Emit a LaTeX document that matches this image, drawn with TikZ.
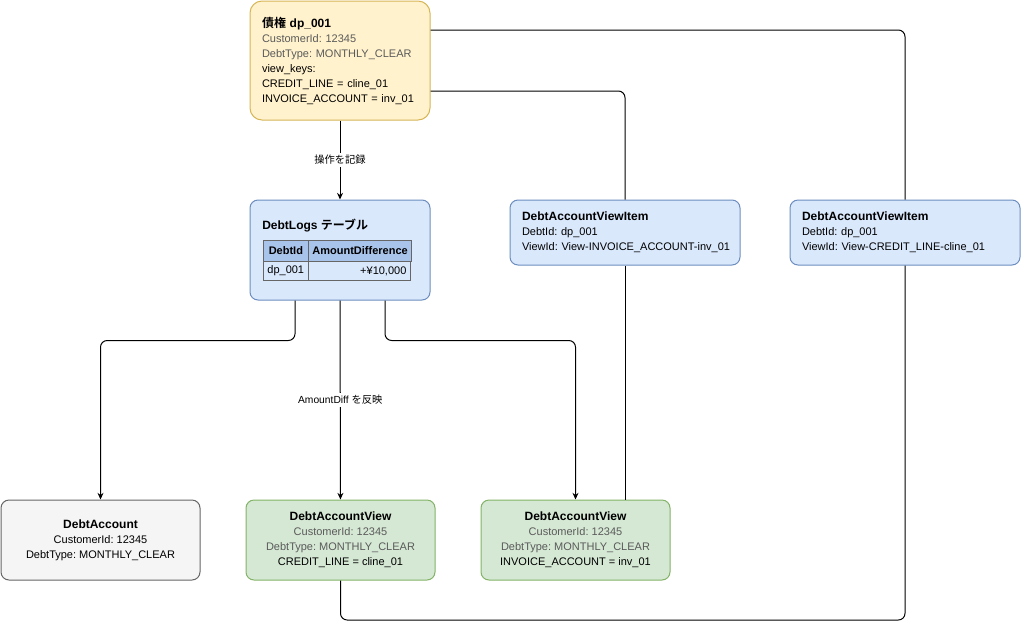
\documentclass[tikz,border=0pt]{standalone}
\usepackage{fontspec}
\setmainfont{Liberation Sans}
\newfontfamily\cjk{Noto Sans CJK JP}[BoldFont={Noto Sans CJK JP Bold}]
\usepackage{xcolor}
\usetikzlibrary{arrows.meta,calc}
\frenchspacing

\definecolor{debtfill}{HTML}{FFF2CC}
\definecolor{debtdraw}{HTML}{D6B656}
\definecolor{logfill}{HTML}{DAE8FC}
\definecolor{logdraw}{HTML}{6C8EBF}
\definecolor{headfill}{HTML}{A9C4EB}
\definecolor{viewfill}{HTML}{D5E8D4}
\definecolor{viewdraw}{HTML}{82B366}
\definecolor{accfill}{HTML}{F5F5F5}
\definecolor{accdraw}{HTML}{666666}
\definecolor{subtext}{HTML}{5A5A5A}

\newcommand{\ttl}[1]{{\bfseries\fontsize{9}{11.25}\selectfont #1}}
\newcommand{\sub}[1]{\textcolor{subtext}{#1}}

\begin{document}
\begin{tikzpicture}[x=0.75pt,y=-0.75pt,
  box/.style={draw,line width=0.75pt,rounded corners=6pt,inner sep=0pt,
    font=\fontsize{8.25}{11.25}\selectfont},
  cell/.style={draw=accdraw,line width=0.6pt,anchor=north west,inner xsep=3pt,inner ysep=0pt,
    font=\fontsize{8.25}{10}\selectfont},
  arr/.style={line width=0.75pt,-{Stealth[length=5pt,width=4.5pt]}},
  link/.style={line width=0.75pt,rounded corners=5pt},
  lbl/.style={fill=white,inner sep=1.5pt,font=\fontsize{7.7}{9}\selectfont}]
  \useasboundingbox (0,0) rectangle (1021,622);

  % source record
  \node[box,fill=debtfill,draw=debtdraw,rounded corners=9pt,minimum width=135pt,minimum height=89.25pt,
    text width=117pt,align=left] (debt) at (340,60.5)
    {\ttl{{\cjk 債権} dp\_001}\\ \sub{CustomerId: 12345}\\ \sub{DebtType: MONTHLY\_CLEAR}\\
     view\_keys:\\ CREDIT\_LINE = cline\_01\\ INVOICE\_ACCOUNT = inv\_01};

  % log table
  \node[box,fill=logfill,draw=logdraw,minimum width=135pt,minimum height=75pt] (logs) at (340,250) {};
  \node[anchor=west,inner sep=0pt] (logtitle) at (262,226) {\ttl{DebtLogs {\cjk テーブル}}};
  \node[cell,fill=headfill,minimum width=33.75pt,minimum height=15.75pt] (hid) at (263,240) {\bfseries DebtId};
  \node[cell,fill=headfill,minimum width=76.5pt,minimum height=15.75pt] (hamt) at (308,240) {\bfseries AmountDifference};
  \node[cell,fill=logfill,text width=27.75pt,align=left,minimum height=14.25pt] (rid) at (263,261) {dp\_001};
  \node[cell,fill=logfill,text width=70.5pt,align=right,minimum height=14.25pt] (ramt) at (308,261) {+¥10,000};

  % view items
  \node[box,fill=logfill,draw=logdraw,minimum width=172.5pt,minimum height=48.75pt,
    text width=154.5pt,align=left] (item1) at (625,232.5)
    {\ttl{DebtAccountViewItem}\\ DebtId: dp\_001\\ \mbox{ViewId: View-INVOICE\_ACCOUNT-inv\_01}};
  \node[box,fill=logfill,draw=logdraw,minimum width=172.5pt,minimum height=48.75pt,
    text width=154.5pt,align=left] (item2) at (905,232.5)
    {\ttl{DebtAccountViewItem}\\ DebtId: dp\_001\\ \mbox{ViewId: View-CREDIT\_LINE-cline\_01}};

  % projections
  \node[box,fill=accfill,draw=accdraw,minimum width=149.25pt,minimum height=60pt,align=center] (account) at (100.5,540)
    {\ttl{DebtAccount}\\ CustomerId: 12345\\ DebtType: MONTHLY\_CLEAR};
  \node[box,fill=viewfill,draw=viewdraw,minimum width=141.75pt,minimum height=60pt,align=center] (view1) at (340.5,540)
    {\ttl{DebtAccountView}\\ \sub{CustomerId: 12345}\\ \sub{DebtType: MONTHLY\_CLEAR}\\ CREDIT\_LINE = cline\_01};
  \node[box,fill=viewfill,draw=viewdraw,minimum width=141.75pt,minimum height=60pt,align=center] (view2) at (575.5,540)
    {\ttl{DebtAccountView}\\ \sub{CustomerId: 12345}\\ \sub{DebtType: MONTHLY\_CLEAR}\\ INVOICE\_ACCOUNT = inv\_01};

  \coordinate (bottom) at (0,620);

  \draw[arr] (debt) -- node[lbl]{\cjk 操作を記録} (logs);
  \draw[arr,rounded corners=5pt] ([xshift=-33.75pt]logs.south) -- ++(0,40) -| (account.north);
  \draw[arr] (logs) -- node[lbl]{AmountDiff {\cjk を反映}} (view1);
  \draw[arr,rounded corners=5pt] ([xshift=33.75pt]logs.south) -- ++(0,40) -| (view2.north);

  \draw[link] ([yshift=-22.875pt]debt.east) -| (item1.north);
  \draw[link] (item1.south) -- (item1.south |- view2.north);
  \draw[link] ([yshift=22.875pt]debt.east) -| (item2.north);
  \draw[link] (item2.south) |- (bottom -| view1.south) -- (view1.south);
\end{tikzpicture}
\end{document}
